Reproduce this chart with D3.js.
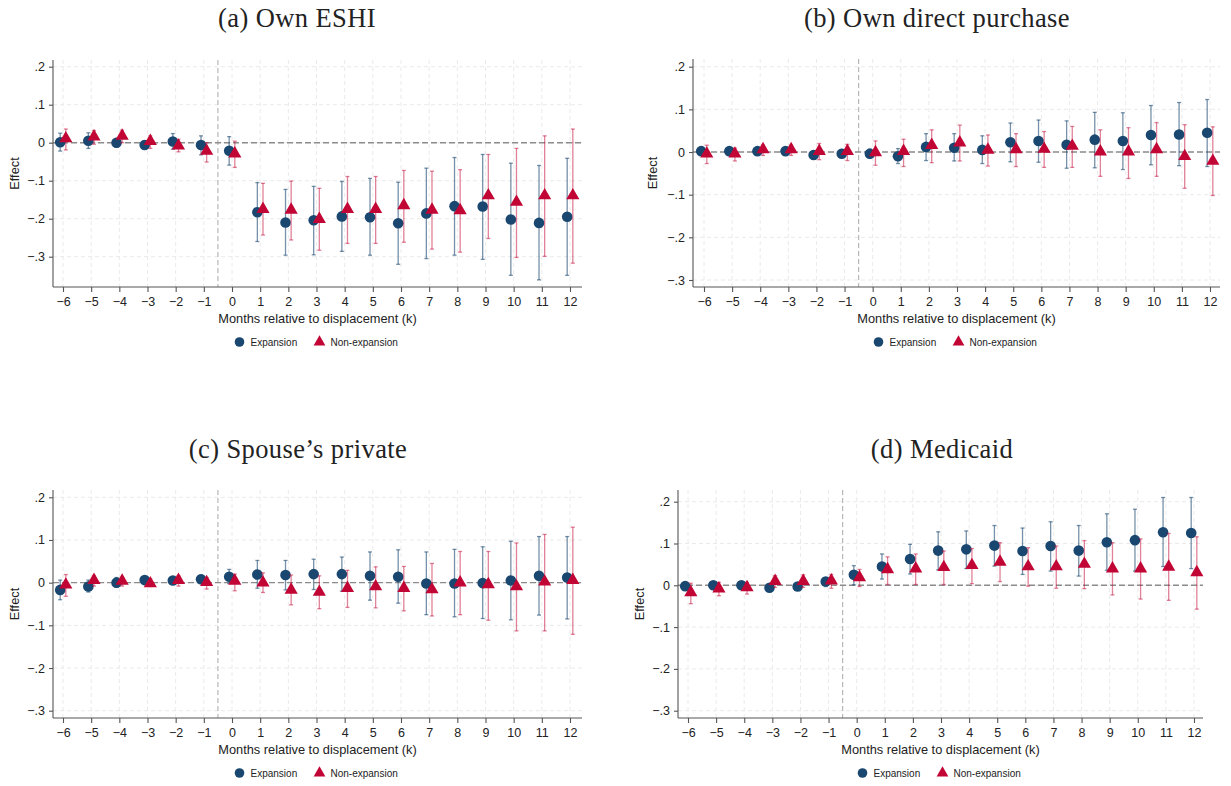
<!DOCTYPE html>
<html>
<head>
<meta charset="utf-8">
<script src="https://cdn.jsdelivr.net/npm/d3@7"></script>
<style>
  body { margin: 0; background: #fff; }
  svg text { font-family: "Liberation Sans", Arial, sans-serif; fill: #222; }
  .ttl { font-family: "Liberation Serif", "DejaVu Serif", serif; }
</style>
</head>
<body>
<div class="holder"></div>
<script>
// months relative to displacement
var months = [-6,-5,-4,-3,-2,-1,0,1,2,3,4,5,6,7,8,9,10,11,12];
var yTicks = [-0.3,-0.2,-0.1,0,0.1,0.2];
var seriesNames = ["Expansion", "Non-expansion"];

// (a) Own ESHI
var eshiExp    = [0.001,0.005,0.000,-0.006,0.003,-0.006,-0.021,-0.183,-0.210,-0.204,-0.194,-0.196,-0.212,-0.186,-0.167,-0.168,-0.202,-0.211,-0.195];
var eshiExpLo  = [-0.022,-0.015,-0.012,-0.016,-0.017,-0.032,-0.059,-0.260,-0.296,-0.295,-0.286,-0.296,-0.320,-0.305,-0.296,-0.307,-0.349,-0.361,-0.349];
var eshiExpHi  = [0.025,0.026,0.011,0.005,0.024,0.018,0.016,-0.105,-0.123,-0.115,-0.102,-0.094,-0.104,-0.067,-0.039,-0.031,-0.054,-0.060,-0.041];
var eshiNon    = [0.011,0.016,0.018,0.004,-0.008,-0.022,-0.029,-0.175,-0.177,-0.201,-0.175,-0.175,-0.165,-0.177,-0.178,-0.139,-0.156,-0.139,-0.139];
var eshiNonLo  = [-0.019,-0.004,0.000,-0.015,-0.024,-0.051,-0.065,-0.243,-0.256,-0.283,-0.265,-0.265,-0.262,-0.280,-0.288,-0.252,-0.302,-0.299,-0.317];
var eshiNonHi  = [0.036,0.032,0.033,0.018,0.009,0.000,0.004,-0.107,-0.101,-0.120,-0.089,-0.089,-0.073,-0.075,-0.071,-0.031,-0.015,0.018,0.036];

// (b) Own direct purchase
var directExp   = [0.002,0.002,0.002,0.002,-0.007,-0.004,-0.004,-0.010,0.012,0.010,0.005,0.023,0.026,0.017,0.029,0.026,0.040,0.041,0.045];
var directExpLo = [-0.007,-0.006,-0.006,-0.006,-0.016,-0.013,-0.014,-0.027,-0.020,-0.021,-0.027,-0.023,-0.024,-0.038,-0.037,-0.041,-0.030,-0.032,-0.034];
var directExpHi = [0.011,0.010,0.010,0.010,0.003,0.006,0.007,0.008,0.043,0.043,0.038,0.068,0.075,0.073,0.093,0.092,0.109,0.116,0.123];
var directNon   = [-0.004,-0.004,0.006,0.006,0.002,0.002,-0.001,0.002,0.016,0.022,0.005,0.006,0.007,0.014,0.001,0.001,0.006,-0.010,-0.021];
var directNonLo = [-0.027,-0.021,-0.008,-0.008,-0.018,-0.020,-0.031,-0.034,-0.025,-0.021,-0.033,-0.034,-0.036,-0.036,-0.057,-0.062,-0.057,-0.085,-0.102];
var directNonHi = [0.016,0.009,0.016,0.016,0.020,0.018,0.026,0.030,0.052,0.063,0.040,0.043,0.048,0.060,0.052,0.057,0.069,0.064,0.059];

// (c) Spouse's private
var spouseExp   = [-0.017,-0.009,0.000,0.006,0.005,0.008,0.014,0.019,0.018,0.020,0.020,0.016,0.014,-0.002,-0.002,-0.001,0.005,0.016,0.012];
var spouseExpLo = [-0.040,-0.022,-0.011,-0.002,-0.003,-0.002,-0.002,-0.013,-0.017,-0.016,-0.020,-0.041,-0.048,-0.075,-0.080,-0.084,-0.087,-0.076,-0.085];
var spouseExpHi = [0.006,0.006,0.012,0.014,0.013,0.018,0.031,0.052,0.052,0.055,0.060,0.072,0.077,0.072,0.078,0.084,0.097,0.108,0.108];
var spouseNon   = [-0.005,0.006,0.004,-0.002,0.006,0.001,0.004,0.000,-0.017,-0.022,-0.013,-0.009,-0.013,-0.016,0.000,-0.004,-0.009,0.002,0.006];
var spouseNonLo = [-0.032,-0.008,-0.008,-0.009,-0.008,-0.015,-0.019,-0.023,-0.052,-0.061,-0.058,-0.059,-0.066,-0.078,-0.075,-0.088,-0.113,-0.113,-0.121];
var spouseNonHi = [0.019,0.016,0.012,0.009,0.016,0.012,0.020,0.023,0.018,0.016,0.029,0.037,0.038,0.045,0.073,0.073,0.093,0.113,0.130];

// (d) Medicaid
var medExp   = [-0.002,0.000,0.000,-0.006,-0.003,0.009,0.025,0.045,0.063,0.083,0.086,0.095,0.082,0.094,0.083,0.103,0.108,0.127,0.125];
var medExpLo = [-0.009,-0.006,-0.006,-0.012,-0.009,-0.003,0.001,0.015,0.027,0.037,0.040,0.046,0.026,0.034,0.022,0.036,0.034,0.045,0.040];
var medExpHi = [0.005,0.006,0.006,0.000,0.003,0.018,0.047,0.075,0.098,0.128,0.130,0.143,0.137,0.152,0.143,0.171,0.182,0.210,0.210];
var medNon   = [-0.017,-0.008,-0.005,0.010,0.010,0.011,0.019,0.038,0.040,0.043,0.048,0.056,0.045,0.045,0.051,0.040,0.040,0.044,0.031];
var medNonLo = [-0.044,-0.025,-0.021,-0.005,-0.005,-0.007,-0.003,0.002,0.002,0.002,0.004,0.009,-0.002,-0.007,-0.008,-0.023,-0.033,-0.036,-0.057];
var medNonHi = [0.005,0.007,0.007,0.023,0.025,0.026,0.038,0.068,0.075,0.082,0.088,0.102,0.090,0.094,0.107,0.102,0.111,0.124,0.116];

var navy = "#1a476f";
var red = "#c10534";

var panels = [
  { title: "(a) Own ESHI", exp: [eshiExp, eshiExpLo, eshiExpHi], non: [eshiNon, eshiNonLo, eshiNonHi],
    left: 53, right: 582, top: 60, bottom: 287, xr: [63, 570], yr: [256.7, 66.7], titleX: 297, titleY: 27, ytX: 15 },
  { title: "(b) Own direct purchase", exp: [directExp, directExpLo, directExpHi], non: [directNon, directNonLo, directNonHi],
    left: 693, right: 1220, top: 59, bottom: 287, xr: [704, 1210], yr: [280, 66.7], titleX: 937, titleY: 27, ytX: 653 },
  { title: "(c) Spouse\u2019s private", exp: [spouseExp, spouseExpLo, spouseExpHi], non: [spouseNon, spouseNonLo, spouseNonHi],
    left: 53, right: 582, top: 490, bottom: 718, xr: [63, 570], yr: [710.7, 497.3], titleX: 298, titleY: 458, ytX: 15 },
  { title: "(d) Medicaid", exp: [medExp, medExpLo, medExpHi], non: [medNon, medNonLo, medNonHi],
    left: 678, right: 1203, top: 490, bottom: 718, xr: [688, 1194], yr: [710.7, 501.7], titleX: 942, titleY: 458, ytX: 640 }
];

var svg = d3.select(".holder").append("svg")
  .attr("width", 1231).attr("height", 786);

function fmtY(v) {
  if (Math.abs(v) < 1e-9) return "0";
  var s = d3.format(".1f")(v);
  return s.replace("0.", ".");
}

panels.forEach(function(p) {
  var g = svg.append("g");
  var x = d3.scaleLinear().domain([-6, 12]).range(p.xr);
  var y = d3.scaleLinear().domain([-0.3, 0.2]).range(p.yr);

  // title
  g.append("text").attr("class", "ttl")
    .attr("x", p.titleX).attr("y", p.titleY)
    .attr("text-anchor", "middle")
    .style("font-size", "26.5px").style("letter-spacing", "0.4px")
    .text(p.title);

  // grid
  g.selectAll(".gx").data(months).enter().append("line")
    .attr("x1", function(d) { return x(d); }).attr("x2", function(d) { return x(d); })
    .attr("y1", p.top).attr("y2", p.bottom)
    .style("stroke", "#eaeaea").style("stroke-dasharray", "4,3");
  g.selectAll(".gy").data(yTicks).enter().append("line")
    .attr("x1", p.left).attr("x2", p.right)
    .attr("y1", function(d) { return y(d); }).attr("y2", function(d) { return y(d); })
    .style("stroke", "#eaeaea").style("stroke-dasharray", "4,3");

  // reference lines
  g.append("line")
    .attr("x1", x(-0.5)).attr("x2", x(-0.5)).attr("y1", p.top).attr("y2", p.bottom)
    .style("stroke", "#b8b8b8").style("stroke-width", 1.2).style("stroke-dasharray", "5,3");
  g.append("line")
    .attr("x1", p.left).attr("x2", p.right).attr("y1", y(0)).attr("y2", y(0))
    .style("stroke", "#8c8c8c").style("stroke-width", 1.4).style("stroke-dasharray", "6,3");

  // axes
  var yAxis = d3.axisLeft(y).tickValues(yTicks).tickSize(4).tickPadding(4).tickFormat(fmtY);
  var ya = g.append("g").attr("transform", "translate(" + p.left + ",0)").call(yAxis);
  ya.select(".domain").attr("d", "M0," + p.top + "V" + p.bottom);
  var xAxis = d3.axisBottom(x).tickValues(months).tickSize(5).tickPadding(5).tickFormat(d3.format("d"));
  var xa = g.append("g").attr("transform", "translate(0," + p.bottom + ")").call(xAxis);
  xa.select(".domain").attr("d", "M" + p.left + ",0H" + p.right);
  [ya, xa].forEach(function(a) {
    a.selectAll("path, line").style("stroke", "#555").style("stroke-width", 1.1);
    a.selectAll("text").style("font-size", "12.5px").style("fill", "#222")
      .style("font-family", "Liberation Sans, Arial, sans-serif");
  });

  // axis titles
  g.append("text")
    .attr("x", (p.left + p.right) / 2).attr("y", p.bottom + 36)
    .attr("text-anchor", "middle").style("font-size", "12.8px")
    .text("Months relative to displacement (k)");
  g.append("text")
    .attr("transform", "translate(" + (p.ytX + 4) + "," + ((p.top + p.bottom) / 2) + ") rotate(-90)")
    .attr("text-anchor", "middle").style("font-size", "12.8px")
    .text("Effect");

  // series
  var sets = [
    { d: p.exp, off: -0.1, color: navy, op: 0.6 },
    { d: p.non, off: 0.1, color: red, op: 0.5 }
  ];
  sets.forEach(function(s, si) {
    var rows = months.map(function(m, i) {
      return { k: m, est: s.d[0][i], lo: s.d[1][i], hi: s.d[2][i] };
    });
    var eb = g.append("g").style("stroke", s.color).style("stroke-opacity", s.op).style("stroke-width", 1.3);
    rows.forEach(function(r) {
      var cx = x(r.k + s.off);
      eb.append("line").attr("x1", cx).attr("x2", cx).attr("y1", y(r.lo)).attr("y2", y(r.hi));
      eb.append("line").attr("x1", cx - 2).attr("x2", cx + 2).attr("y1", y(r.lo)).attr("y2", y(r.lo));
      eb.append("line").attr("x1", cx - 2).attr("x2", cx + 2).attr("y1", y(r.hi)).attr("y2", y(r.hi));
    });
    if (si === 0) {
      g.selectAll(".pt-exp").data(rows).enter().append("circle")
        .attr("cx", function(r) { return x(r.k + s.off); })
        .attr("cy", function(r) { return y(r.est); })
        .attr("r", 5.3).style("fill", navy);
    } else {
      g.selectAll(".pt-non").data(rows).enter().append("path")
        .attr("d", d3.symbol().type(d3.symbolTriangle).size(75))
        .attr("transform", function(r) { return "translate(" + x(r.k + s.off) + "," + y(r.est) + ")"; })
        .style("fill", red);
    }
  });

  // legend
  var cx = (p.left + p.right) / 2;
  var ly = p.bottom + 55;
  var lg = g.append("g");
  lg.append("circle").attr("cx", cx - 78).attr("cy", ly).attr("r", 4.8).style("fill", navy);
  lg.append("text").attr("x", cx - 67).attr("y", ly + 3.5).style("font-size", "10px").text(seriesNames[0]);
  lg.append("path").attr("d", d3.symbol().type(d3.symbolTriangle).size(60))
    .attr("transform", "translate(" + (cx + 2) + "," + ly + ")").style("fill", red);
  lg.append("text").attr("x", cx + 13).attr("y", ly + 3.5).style("font-size", "10px").text(seriesNames[1]);
});
</script>
</body>
</html>
